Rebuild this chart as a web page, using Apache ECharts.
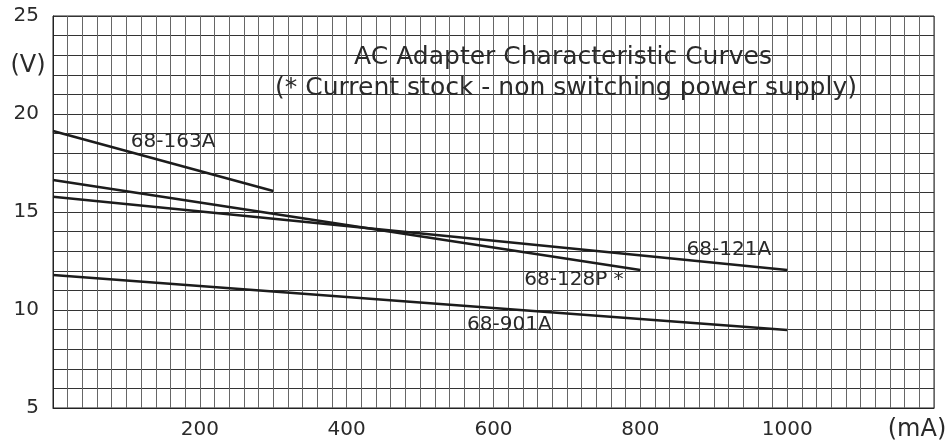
<!DOCTYPE html>
<html>
<head>
<meta charset="utf-8">
<script src="https://cdn.jsdelivr.net/npm/echarts@6/dist/echarts.min.js"></script>
<style>
  html, body { margin: 0; padding: 0; background: #fff; }
  #chart { width: 951px; height: 441px; }
</style>
</head>
<body>
<div id="chart"></div>
<script>
// adapter curves: [mA, V] end points
const curve163A = [[0, 19.13], [300, 16.07]];
const curve128P = [[0, 16.63], [800, 12.04]];
const curve121A = [[0, 15.78], [1000, 12.04]];
const curve901A = [[0, 11.79], [1000, 8.98]];

// curve names and where their labels sit (left edge, middle) in data units
const curveNames = ['68-163A', '68-121A', '68-128P *', '68-901A'];
const labelAnchors = [[106, 18.57], [863, 13.06], [642, 11.53], [564, 9.23]];

const xTicks = [200, 400, 600, 800, 1000];
const yTicks = [5, 10, 15, 20, 25];

const titleLines = ['AC Adapter Characteristic Curves', '(* Current stock - non switching power supply)'];

const FONT = '"DejaVu Sans", Verdana, sans-serif';
const INK = '#1c1c1c';
const TXT = '#2a2a2a';

const chart = echarts.init(document.getElementById('chart'));

const lineSeries = (data) => ({
  type: 'line',
  data: data,
  symbol: 'none',
  silent: true,
  z: 5,
  lineStyle: { color: INK, width: 2.5 }
});

const option = {
  animation: false,
  backgroundColor: '#fff',
  grid: {
    left: 53, right: 17, top: 16, bottom: 33,
    show: true, borderColor: '#222', borderWidth: 1
  },
  xAxis: {
    type: 'value',
    min: 0, max: 1200, interval: 20,
    axisLine: { show: true, lineStyle: { color: '#222', width: 1 } },
    axisTick: { show: false },
    splitLine: { show: true, lineStyle: { color: '#666', width: 1 } },
    axisLabel: {
      margin: 12,
      fontFamily: FONT, fontSize: 20, color: TXT,
      formatter: v => xTicks.includes(v) ? String(v) : ''
    }
  },
  yAxis: {
    type: 'value',
    min: 5, max: 25, interval: 1,
    axisLine: { show: true, lineStyle: { color: '#222', width: 1 } },
    axisTick: { show: false },
    splitLine: { show: true, lineStyle: { color: '#333', width: 1 } },
    axisLabel: {
      margin: 14,
      fontFamily: FONT, fontSize: 20, color: TXT,
      formatter: v => yTicks.includes(v) ? String(v) : ''
    }
  },
  series: [
    lineSeries(curve163A),
    lineSeries(curve128P),
    lineSeries(curve121A),
    lineSeries(curve901A),
    {
      type: 'scatter',
      symbolSize: 0,
      silent: true,
      z: 6,
      itemStyle: { opacity: 1 },
      data: labelAnchors.map((p, i) => ({ value: p, name: curveNames[i] })),
      label: {
        show: true,
        position: 'right',
        distance: 0,
        opacity: 1,
        formatter: p => p.name,
        fontFamily: FONT, fontSize: 20, color: TXT,
        textBorderWidth: 0
      }
    }
  ],
  graphic: [
    {
      type: 'text', x: 563, y: 57, z: 10,
      style: { text: titleLines[0], textAlign: 'center', textVerticalAlign: 'middle', font: '25px ' + FONT, fill: TXT }
    },
    {
      type: 'text', x: 566, y: 88, z: 10,
      style: { text: titleLines[1], textAlign: 'center', textVerticalAlign: 'middle', font: '25px ' + FONT, fill: TXT }
    },
    {
      type: 'text', x: 28, y: 66, z: 10,
      style: { text: '(V)', textAlign: 'center', textVerticalAlign: 'middle', font: '24px ' + FONT, fill: TXT }
    },
    {
      type: 'text', x: 917, y: 430, z: 10,
      style: { text: '(mA)', textAlign: 'center', textVerticalAlign: 'middle', font: '24px ' + FONT, fill: TXT }
    }
  ]
};

chart.setOption(option);
</script>
</body>
</html>
